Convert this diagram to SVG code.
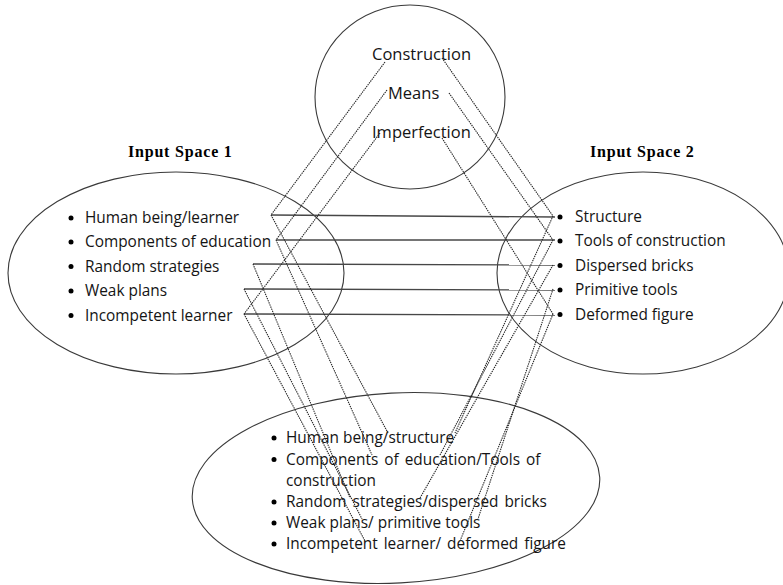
<svg xmlns="http://www.w3.org/2000/svg" width="783" height="585" viewBox="0 0 783 585">
<style>
  .shape { fill: none; stroke: #3a3a3a; stroke-width: 1.1; }
  .txt { font-family: "Open Sans", "Liberation Sans", sans-serif; font-size: 15.4px; fill: #141414; }
  .gen { font-family: "Open Sans", "Liberation Sans", sans-serif; font-size: 16.5px; fill: #141414; }
  .ttl { font-family: "Liberation Serif", serif; font-size: 16px; font-weight: bold; fill: #000; letter-spacing: 0.8px; }
  .dot { fill: none; stroke: #262626; stroke-width: 1.1; stroke-dasharray: 1.4 0.9; }
  .solid { fill: none; stroke: #474747; stroke-width: 1.4; }
  .bul { fill: #000; }
</style>
<rect width="783" height="585" fill="#fff"/>

<g id="generic-space">
  <ellipse class="shape" cx="410" cy="97" rx="95" ry="92"/>
  <text class="gen" x="372" y="60">Construction</text>
  <text class="gen" x="388" y="99">Means</text>
  <text class="gen" x="372" y="138">Imperfection</text>
</g>

<g id="input-space-1">
  <ellipse class="shape" cx="176" cy="273" rx="168" ry="101"/>
  <text class="ttl" x="128" y="157">Input Space 1</text>
  <circle class="bul" cx="71" cy="218" r="2.5"/>
  <circle class="bul" cx="71" cy="242" r="2.5"/>
  <circle class="bul" cx="71" cy="266.5" r="2.5"/>
  <circle class="bul" cx="71" cy="291" r="2.5"/>
  <circle class="bul" cx="71" cy="315.5" r="2.5"/>
  <text class="txt" x="85" y="222.5">Human being/learner</text>
  <text class="txt" x="85" y="247">Components of education</text>
  <text class="txt" x="85" y="271.5">Random strategies</text>
  <text class="txt" x="85" y="296">Weak plans</text>
  <text class="txt" x="85" y="320.5">Incompetent learner</text>
</g>

<g id="input-space-2">
  <ellipse class="shape" cx="643" cy="273" rx="146" ry="101"/>
  <text class="ttl" x="590" y="157">Input Space 2</text>
  <circle class="bul" cx="560" cy="217" r="2.5"/>
  <circle class="bul" cx="560" cy="241" r="2.5"/>
  <circle class="bul" cx="560" cy="265.5" r="2.5"/>
  <circle class="bul" cx="560" cy="290" r="2.5"/>
  <circle class="bul" cx="560" cy="314.5" r="2.5"/>
  <text class="txt" x="575" y="222">Structure</text>
  <text class="txt" x="575" y="246">Tools of construction</text>
  <text class="txt" x="575" y="270.5">Dispersed bricks</text>
  <text class="txt" x="575" y="295">Primitive tools</text>
  <text class="txt" x="575" y="319.5">Deformed figure</text>
</g>

<g id="blend">
  <ellipse class="shape" cx="396" cy="488" rx="204" ry="95" transform="rotate(-3 396 488)"/>
  <circle class="bul" cx="274" cy="438" r="2.5"/>
  <circle class="bul" cx="274" cy="459.5" r="2.5"/>
  <circle class="bul" cx="274" cy="502" r="2.5"/>
  <circle class="bul" cx="274" cy="523" r="2.5"/>
  <circle class="bul" cx="274" cy="544" r="2.5"/>
  <text class="txt" x="286" y="443">Human being/structure</text>
  <text class="txt" x="286" y="464.5" word-spacing="2">Components of education/Tools of</text>
  <text class="txt" x="286" y="486">construction</text>
  <text class="txt" x="286" y="507" word-spacing="2">Random strategies/dispersed bricks</text>
  <text class="txt" x="286" y="528">Weak plans/ primitive tools</text>
  <text class="txt" x="286" y="549" word-spacing="2">Incompetent learner/ deformed figure</text>
</g>

<g id="connectors">
  <!-- mapping lines between input spaces -->
  <path class="solid" d="M271,215 L555,217"/>
  <path class="solid" d="M276,240 L555,240"/>
  <path class="solid" d="M253,264 L555,265"/>
  <path class="solid" d="M244,289 L555,290"/>
  <path class="solid" d="M244,314 L555,315"/>
  <!-- generic space to input space 1 -->
  <path class="dot" d="M385,62 L271,215"/>
  <path class="dot" d="M387,90 L276,240"/>
  <path class="dot" d="M380,133 L244,314"/>
  <!-- generic space to input space 2 -->
  <path class="dot" d="M442,58 L553,216"/>
  <path class="dot" d="M449,93 L553,240"/>
  <path class="dot" d="M442,138 L553,314"/>
  <!-- input space 1 to blend -->
  <path class="dot" d="M271,215 L388,433"/>
  <path class="dot" d="M276,240 L372,455"/>
  <path class="dot" d="M253,264 L350,498"/>
  <path class="dot" d="M244,289 L362,519"/>
  <path class="dot" d="M244,314 L365,541"/>
  <!-- input space 2 to blend -->
  <path class="dot" d="M553,216 L455,433"/>
  <path class="dot" d="M553,240 L440,455"/>
  <path class="dot" d="M553,265 L420,498"/>
  <path class="dot" d="M553,289 L478,519"/>
  <path class="dot" d="M553,314 L460,541"/>
</g>
</svg>
